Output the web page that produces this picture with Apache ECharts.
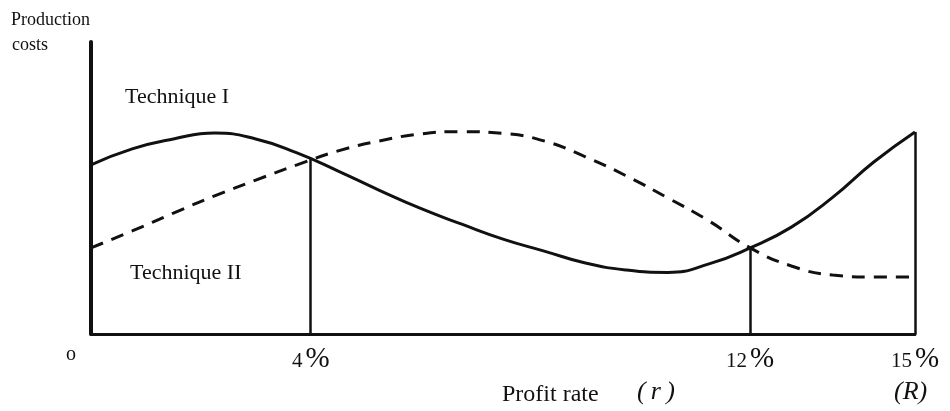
<!DOCTYPE html>
<html>
<head>
<meta charset="utf-8">
<script src="https://cdn.jsdelivr.net/npm/echarts@6/dist/echarts.min.js"></script>
<style>
  html, body { margin: 0; padding: 0; background: #fff; }
  #chart { width: 950px; height: 411px; }
</style>
</head>
<body>
<div id="chart"></div>
<script>
var rates   = [0, 0.75, 1.5, 2.25, 3, 3.75, 4.5, 5.25, 6, 6.75, 7.5,
               8.25, 9, 9.75, 10.5, 11.25, 12, 12.75, 13.5, 14.25, 15];
var techOne = [57.9, 63.4, 66.8, 68.8, 66.8, 62.0, 55.8, 49.2, 43.0, 37.6, 32.5,
               28.4, 24.3, 21.9, 21.1, 24.0, 29.5, 36.6, 46.8, 58.9, 69.2];
var techTwo = [29.5, 35.3, 41.4, 47.3, 52.7, 57.9, 62.7, 66.1, 68.5, 69.3, 68.7,
               66.1, 60.7, 54.1, 46.6, 38.7, 29.5, 23.3, 20.2, 19.5, 19.5];
// switch points (vertical drop lines)
var switchX = [4, 12, 15];
var switchY = [60, 29.5, 69.2];
var tickValues = [0, 4, 12, 15];
var tickLabels = {0: '{o|o}', 4: '{d|4}{p|%}', 12: '{d|12}{p|%}', 15: '{d|15}{p|%}'};

var ink = '#111';
var serif = '"Liberation Serif", "DejaVu Serif", serif';

function pairs(xs, ys) {
    return xs.map(function (x, i) { return [x, ys[i]]; });
}

var chart = echarts.init(document.getElementById('chart'));

var drops = [];
for (var i = 0; i < switchX.length; i++) {
    drops.push([{coord: [switchX[i], 0]}, {coord: [switchX[i], switchY[i]]}]);
}

chart.setOption({
    animation: false,
    grid: {left: 91, right: 35, top: 42, bottom: 77},
    xAxis: {
        type: 'value',
        min: 0,
        max: 15,
        splitLine: {show: false},
        axisTick: {show: false},
        axisLine: {lineStyle: {color: ink, width: 3}},
        axisLabel: {
            customValues: tickValues,
            margin: 11,
            color: ink,
            formatter: function (v) { return tickLabels[v]; },
            rich: {
                o: {fontFamily: serif, fontSize: 20, color: ink, padding: [0, 40, 0, 0]},
                d: {fontFamily: serif, fontSize: 21, color: ink, padding: [4, 3, 0, 0]},
                p: {fontFamily: serif, fontSize: 29, color: ink}
            }
        }
    },
    yAxis: {
        type: 'value',
        min: 0,
        max: 100,
        splitLine: {show: false},
        axisTick: {show: false},
        axisLabel: {show: false},
        axisLine: {show: true, lineStyle: {color: ink, width: 4}}
    },
    graphic: [
        {type: 'text', left: 11, top: 11, style: {text: 'Production', font: '18px ' + serif, fill: ink}},
        {type: 'text', left: 12, top: 36, style: {text: 'costs', font: '18px ' + serif, fill: ink}},
        {type: 'text', left: 125, top: 86, style: {text: 'Technique I', font: '22px ' + serif, fill: ink}},
        {type: 'text', left: 130, top: 262, style: {text: 'Technique II', font: '22px ' + serif, fill: ink}},
        {type: 'text', left: 502, top: 383, style: {text: 'Profit rate', font: '24px ' + serif, fill: ink}},
        {type: 'text', left: 637, top: 379, style: {text: '(\u2009r\u2009)', font: 'italic 26px ' + serif, fill: ink}},
        {type: 'text', left: 894, top: 379, style: {text: '(R)', font: 'italic 26px ' + serif, fill: ink}}
    ],
    series: [
        {
            name: 'Technique I',
            type: 'line',
            data: pairs(rates, techOne),
            smooth: 0.5,
            symbol: 'none',
            lineStyle: {color: ink, width: 3}
        },
        {
            name: 'Technique II',
            type: 'line',
            data: pairs(rates, techTwo),
            smooth: 0.5,
            symbol: 'none',
            lineStyle: {color: ink, width: 3, type: [13, 9]}
        },
        {
            name: 'switch',
            type: 'line',
            data: [],
            markLine: {
                silent: true,
                symbol: 'none',
                label: {show: false},
                lineStyle: {color: ink, width: 2.5, type: 'solid'},
                data: drops
            }
        }
    ]
});
</script>
</body>
</html>
